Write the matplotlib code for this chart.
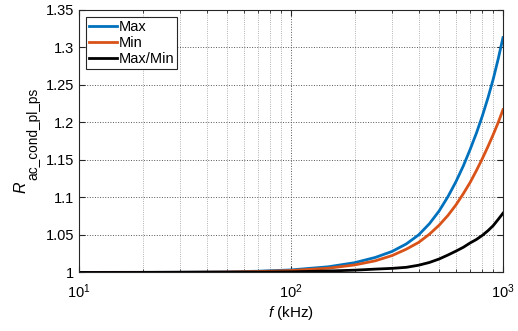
import numpy as np
import matplotlib.pyplot as plt
from matplotlib.ticker import FixedLocator, FuncFormatter, LogLocator, NullFormatter

plt.rcParams['font.family'] = ['Liberation Sans', 'DejaVu Sans']
plt.rcParams['mathtext.fontset'] = 'custom'
plt.rcParams['mathtext.rm'] = 'Liberation Sans'
plt.rcParams['mathtext.it'] = 'Liberation Sans:italic'

# frecuencia (kHz) y valores
f_khz = [10, 20, 30, 50, 70, 100, 150, 200, 250, 300, 350, 400, 450, 500,
         550, 600, 650, 700, 750, 800, 850, 900, 950, 1000]
r_max = [1.0, 1.0001, 1.0003, 1.0008, 1.0016, 1.0033, 1.0075, 1.013, 1.020,
         1.028, 1.038, 1.050, 1.065, 1.082, 1.101, 1.121, 1.142, 1.164,
         1.186, 1.209, 1.233, 1.258, 1.285, 1.313]
r_min = [1.0, 1.0001, 1.0002, 1.0006, 1.0012, 1.0025, 1.0056, 1.010, 1.0155,
         1.0225, 1.031, 1.040, 1.051, 1.063, 1.076, 1.090, 1.105, 1.120,
         1.136, 1.152, 1.168, 1.184, 1.200, 1.217]
r_ratio = [1.0, 1.0, 1.0001, 1.0002, 1.0004, 1.0008, 1.0019, 1.003, 1.0044,
           1.0054, 1.0068, 1.0096, 1.0133, 1.0179, 1.0232, 1.0284, 1.0335,
           1.0393, 1.044, 1.0495, 1.0557, 1.0625, 1.0708, 1.0789]
y_ticks = [1, 1.05, 1.1, 1.15, 1.2, 1.25, 1.3, 1.35]

W, H = 518, 331
fig = plt.figure(figsize=(W / 100, H / 100), dpi=100)
ax = fig.add_axes([0.1525, 0.177, 0.8185, 0.793])

ax.plot(f_khz, r_max, color='#0072BD', lw=2, label='Max')
ax.plot(f_khz, r_min, color='#D95319', lw=2, label='Min')
ax.plot(f_khz, r_ratio, color='black', lw=2, label='Max/Min')

ax.set_xscale('log')
ax.set_xlim(10, 1000)
ax.set_ylim(1, 1.35)
ax.yaxis.set_major_locator(FixedLocator(y_ticks))
ax.yaxis.set_major_formatter(FuncFormatter(lambda v, p: '{:g}'.format(round(v, 2))))
ax.xaxis.set_minor_locator(LogLocator(base=10, subs=np.arange(2, 10)))
ax.xaxis.set_minor_formatter(NullFormatter())

ax.grid(True, which='major', linestyle=':', color='#555555', lw=0.7)
ax.grid(True, which='minor', axis='x', linestyle=':', color='#999999', lw=0.6)
ax.tick_params(which='both', direction='in', top=True, right=True,
               labelsize=10.5, color='#262626')
ax.tick_params(which='major', length=4)
ax.tick_params(which='minor', length=2)
ax.tick_params(axis='x', pad=7)
for s in ax.spines.values():
    s.set_color('#262626')
    s.set_linewidth(0.8)

ax.set_xlabel('$f$ (kHz)', fontsize=11, labelpad=2)

# etiqueta y: R con subindice grande (estilo MATLAB)
fig.text(26 / W, 1 - 193 / H, 'R', rotation=90, rotation_mode='anchor',
         ha='left', va='baseline', fontsize=11.5, style='italic')
fig.text(37 / W, 1 - 180 / H, 'ac_cond_pl_ps', rotation=90,
         rotation_mode='anchor', ha='left', va='baseline', fontsize=9.8)

leg = ax.legend(loc='upper left', fontsize=10.5, fancybox=False,
                edgecolor='#262626', framealpha=1, handlelength=1.9,
                handletextpad=0.1, labelspacing=0.12, borderpad=0.2,
                borderaxespad=0.5)
leg.get_frame().set_linewidth(0.8)

fig.savefig('out.png', dpi=100)
